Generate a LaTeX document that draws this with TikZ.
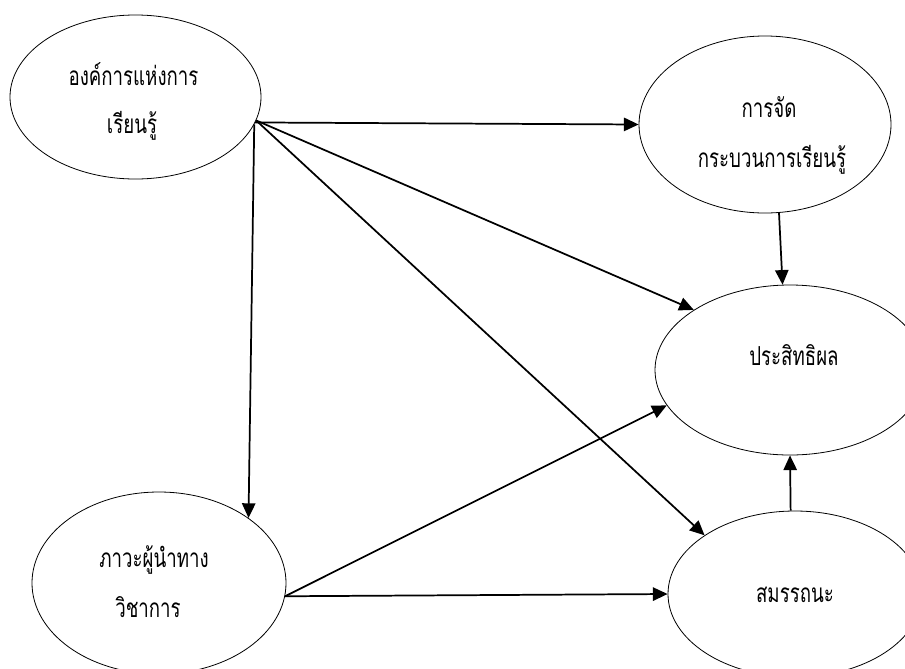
\documentclass[tikz,border=0pt]{standalone}
\usepackage{fontspec}
\usepackage{graphicx}
\newfontfamily\thaifont[Script=Thai]{Loma}
\usetikzlibrary{arrows.meta,shapes.geometric}
% tall, narrow Thai lettering
\newcommand{\thaitext}[1]{\scalebox{1.0}[1.4]{#1}}

\begin{document}
\begin{tikzpicture}[x=0.75pt,y=-0.75pt,
  construct/.style={draw, ellipse, line width=0.6pt, inner sep=0pt},
  caption/.style={anchor=base, font=\thaifont\fontsize{14}{16}\selectfont, inner sep=0pt},
  path/.style={line width=1.3pt, -{Triangle[length=11pt,width=10pt]}}]

\useasboundingbox (0,0) rectangle (905,668);

% constructs
\node[construct, minimum width=188.25pt, minimum height=123pt]   (org)   at (135.5,97)  {};
\node[construct, minimum width=189pt,    minimum height=132.75pt] (proc)  at (765,124.5) {};
\node[construct, minimum width=202.5pt,  minimum height=127.5pt]  (eff)   at (790,370)  {};
\node[construct, minimum width=190.5pt,  minimum height=136.5pt]  (lead)  at (159,583)  {};
\node[construct, minimum width=190.5pt,  minimum height=124.5pt]  (comp)  at (795,594)  {};

% labels
\node[caption] (orgA)  at (133.5,85)  {\thaitext{องค์การแห่งการ}};
\node[caption] (orgB)  at (132,133)   {\thaitext{เรียนรู้}};
\node[caption] (procA) at (769,117)   {\thaitext{การจัด}};
\node[caption] (procB) at (772,167)   {\thaitext{กระบวนการเรียนรู้}};
\node[caption] (effA)  at (794,365)   {\thaitext{ประสิทธิผล}};
\node[caption] (leadA) at (154,567)   {\thaitext{ภาวะผู้นำทาง}};
\node[caption] (leadB) at (148,617)   {\thaitext{วิชาการ}};
\node[caption] (compA) at (795,602)   {\thaitext{สมรรถนะ}};

% paths
\draw[path] (org.-12)  -- (proc.west);
\draw[path] (org.-11)  -- (eff.148.5);
\draw[path] (org.-11)  -- (comp.147.3);
\draw[path] (org.-13)  -- (lead.36);
\draw[path] (proc.-81) -- (eff.95.4);
\draw[path] (lead.-6)  -- (eff.196.5);
\draw[path] (lead.-6)  -- (comp.west);
\draw[path] (comp.93)  -- (eff.270);
\end{tikzpicture}
\end{document}
